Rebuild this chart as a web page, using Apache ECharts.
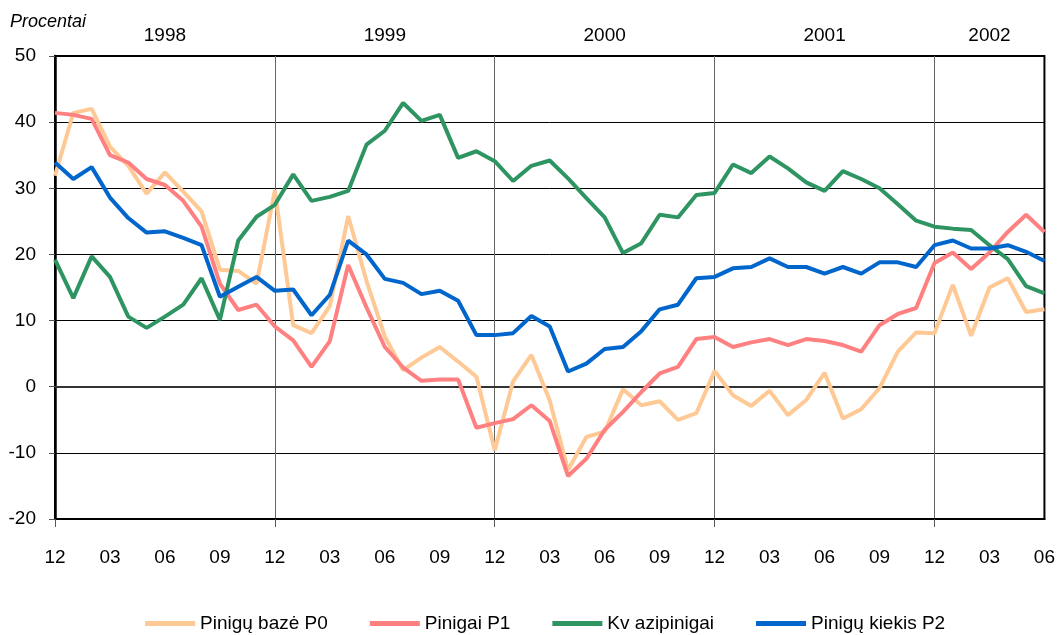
<!DOCTYPE html>
<html>
<head>
<meta charset="utf-8">
<script src="https://cdn.jsdelivr.net/npm/echarts@6/dist/echarts.min.js"></script>
<style>html,body{margin:0;padding:0;background:#fff}#c{width:1058px;height:635px}</style>
</head>
<body>
<div id="c"></div>
<script>
var months = ['12','01','02','03','04','05','06','07','08','09','10','11',
  '12','01','02','03','04','05','06','07','08','09','10','11',
  '12','01','02','03','04','05','06','07','08','09','10','11',
  '12','01','02','03','04','05','06','07','08','09','10','11',
  '12','01','02','03','04','05','06'];
var years = {6:'1998', 18:'1999', 30:'2000', 42:'2001', 51:'2002'};
var seriesNames = ['Pinigų bazė P0','Pinigai P1','Kv azipinigai','Pinigų kiekis P2'];
var p0 = [31.9,41.4,42.0,36.3,33.4,29.2,32.4,29.5,26.5,17.7,17.5,15.6,
  29.7,9.3,8.1,12.2,25.8,16.0,7.6,2.5,4.4,6.0,3.8,1.5,
  -9.6,0.8,4.8,-2.1,-12.6,-7.6,-6.8,-0.4,-2.8,-2.2,-5.0,-4.0,
  2.4,-1.3,-2.9,-0.6,-4.3,-2.0,2.1,-4.8,-3.4,-0.2,5.3,8.2,
  8.1,15.4,7.7,15.0,16.4,11.3,11.7];
var p1 = [41.4,41.1,40.5,35.0,33.9,31.4,30.5,28.1,24.2,15.6,11.6,12.4,
  9.1,7.0,3.0,6.9,18.4,12.0,6.0,2.9,0.9,1.1,1.1,-6.2,
  -5.5,-4.9,-2.8,-5.2,-13.5,-10.9,-6.5,-3.8,-0.8,2.0,3.0,7.2,
  7.5,6.0,6.7,7.2,6.3,7.2,6.9,6.3,5.3,9.3,11.0,11.9,
  18.7,20.3,17.8,20.3,23.4,26.0,23.4];
var kvazi = [19.2,13.4,19.7,16.6,10.6,8.9,10.6,12.4,16.4,10.1,22.1,25.7,
  27.5,32.1,28.1,28.7,29.6,36.6,38.7,42.9,40.2,41.1,34.6,35.6,
  34.1,31.1,33.4,34.2,31.5,28.5,25.6,20.2,21.7,26.0,25.6,29.0,
  29.3,33.6,32.3,34.8,33.0,30.9,29.6,32.6,31.4,30.0,27.6,25.1,
  24.2,23.9,23.7,21.4,19.3,15.2,14.1];
var p2 = [33.9,31.4,33.2,28.6,25.5,23.3,23.5,22.5,21.4,13.6,15.1,16.6,
  14.5,14.7,10.8,13.9,22.1,20.0,16.3,15.7,14.0,14.5,13.0,7.8,
  7.8,8.1,10.7,9.1,2.3,3.5,5.7,6.0,8.4,11.7,12.4,16.4,
  16.6,17.9,18.1,19.4,18.1,18.1,17.1,18.1,17.1,18.8,18.8,18.1,
  21.4,22.1,20.9,20.9,21.4,20.4,19.0];
var colors = ['#FFC995','#FF8080','#2E9562','#0066CC'];
var FONT = '"Liberation Sans Narrow","Arial Narrow","Liberation Sans",Arial,sans-serif';
var FS = 19;

function mkSeries(name, data, color, extra) {
  var s = {
    name: name, type: 'line', data: data, showSymbol: false, symbol: 'none',
    lineStyle: {color: color, width: 4}, itemStyle: {color: color},
    animation: false, z: 3
  };
  if (extra) for (var k in extra) s[k] = extra[k];
  return s;
}

var chart = echarts.init(document.getElementById('c'), null, {renderer: 'canvas'});
chart.setOption({
  animation: false,
  textStyle: {fontFamily: FONT},
  grid: {left: 55, right: 12, top: 56, bottom: 116, show: true, borderColor: '#000', borderWidth: 2, backgroundColor: 'transparent'},
  legend: {
    data: seriesNames, left: 140, top: 609, icon: 'rect', itemWidth: 50, itemHeight: 5, itemGap: 42,
    textStyle: {fontFamily: FONT, fontSize: FS, color: '#000'}
  },
  xAxis: [{
    type: 'category', data: months, boundaryGap: false,
    axisLine: {show: true, onZero: false, lineStyle: {color: '#000', width: 2}},
    axisTick: {show: true, length: 8, inside: false, interval: function (i) { return i % 12 === 0; }, lineStyle: {color: '#555', width: 1}},
    axisLabel: {interval: function (i) { return i % 3 === 0; }, fontFamily: FONT, fontSize: FS, color: '#000', margin: 29},
    splitLine: {show: true, interval: function (i) { return i % 12 === 0; }, lineStyle: {color: '#666', width: 1}}
  }, {
    type: 'category', data: months, boundaryGap: false, position: 'top',
    axisLine: {show: false}, axisTick: {show: false}, splitLine: {show: false},
    axisLabel: {
      interval: function (i) { return years[i] !== undefined; },
      formatter: function (v, i) { return years[i] || ''; },
      fontFamily: FONT, fontSize: FS, color: '#000', margin: 11
    }
  }],
  yAxis: {
    type: 'value', min: -20, max: 50, interval: 10,
    name: 'Procentai', nameLocation: 'end', nameGap: 25,
    nameTextStyle: {fontFamily: FONT, fontSize: 18, fontStyle: 'italic', color: '#000', align: 'center', padding: [0, 14, 0, 0]},
    axisLine: {show: true, lineStyle: {color: '#000', width: 2.5}},
    axisTick: {show: true, length: 6, lineStyle: {color: '#555', width: 1}},
    axisLabel: {fontFamily: FONT, fontSize: FS, color: '#000', margin: 19},
    splitLine: {show: true, lineStyle: {color: '#000', width: 1}}
  },
  series: [
    mkSeries(seriesNames[0], p0, colors[0], {
      markLine: {silent: true, symbol: 'none', label: {show: false}, animation: false,
        lineStyle: {color: '#333', width: 2, type: 'solid'}, data: [{yAxis: 0}], z: 2}
    }),
    mkSeries(seriesNames[1], p1, colors[1]),
    mkSeries(seriesNames[2], kvazi, colors[2]),
    mkSeries(seriesNames[3], p2, colors[3])
  ]
});
</script>
</body>
</html>
